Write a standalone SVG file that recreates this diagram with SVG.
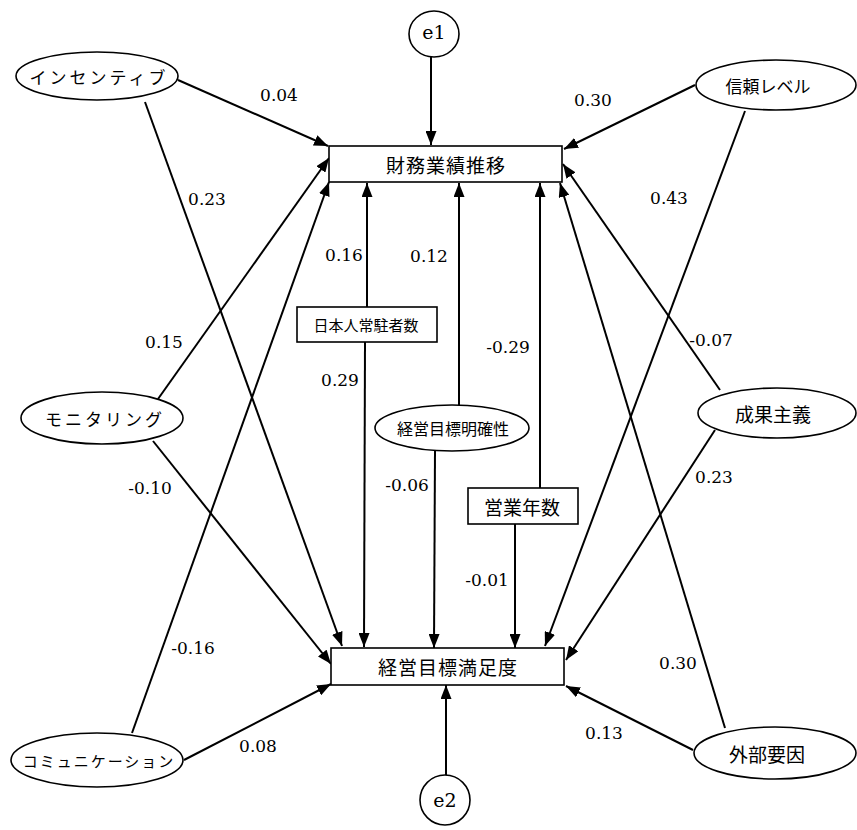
<svg xmlns="http://www.w3.org/2000/svg" width="857" height="830" viewBox="0 0 857 830">
<style>
.n{fill:#fff;stroke:#000;stroke-width:1.6}
.jp{font-family:"Noto Sans CJK JP","Noto Sans CJK SC",sans-serif;font-size:17px;fill:#000;text-anchor:middle;dominant-baseline:central}
.jb{font-size:19px;letter-spacing:1px}
.kt{letter-spacing:3px}
.e{font-family:"DejaVu Serif","Liberation Serif",serif;font-size:19px;fill:#000;text-anchor:middle;dominant-baseline:central}
.c{stroke:#000;stroke-width:2;fill:none;marker-end:url(#ah)}
.lb{font-family:"DejaVu Serif","Liberation Serif",serif;font-size:17px;fill:#000;text-anchor:middle;dominant-baseline:central}
</style>
<defs>
<marker id="ah" markerUnits="userSpaceOnUse" markerWidth="15" markerHeight="11" refX="14" refY="5.5" orient="auto">
<path d="M0,0 L14,5.5 L0,11 z" fill="#000"/>
</marker>
</defs>
<rect width="857" height="830" fill="#fff"/>
<g id="connectors">
<line class="c" x1="431" y1="57" x2="431" y2="145"/>
<line class="c" x1="446" y1="776" x2="446" y2="685"/>
<line class="c" x1="178" y1="80" x2="328" y2="146"/>
<line class="c" x1="145" y1="102" x2="342" y2="646"/>
<line class="c" x1="158" y1="399" x2="329" y2="158"/>
<line class="c" x1="153" y1="441" x2="331" y2="664"/>
<line class="c" x1="132" y1="733" x2="329" y2="182"/>
<line class="c" x1="184" y1="760" x2="331" y2="684"/>
<line class="c" x1="695" y1="85" x2="564" y2="149"/>
<line class="c" x1="745" y1="111" x2="545" y2="646"/>
<line class="c" x1="720" y1="390" x2="563" y2="164"/>
<line class="c" x1="715" y1="430" x2="566" y2="660"/>
<line class="c" x1="725" y1="728" x2="560" y2="183"/>
<line class="c" x1="693" y1="750" x2="566" y2="686"/>
<line class="c" x1="367" y1="307" x2="367" y2="183"/>
<line class="c" x1="365" y1="342" x2="364" y2="647"/>
<line class="c" x1="459" y1="405" x2="459" y2="183"/>
<line class="c" x1="435" y1="451" x2="434" y2="648"/>
<line class="c" x1="540" y1="488" x2="540" y2="183"/>
<line class="c" x1="515" y1="524" x2="515" y2="648"/>
</g>
<g id="labels">
<text class="lb" x="279" y="95">0.04</text>
<text class="lb" x="207" y="199">0.23</text>
<text class="lb" x="164" y="342">0.15</text>
<text class="lb" x="150" y="488">-0.10</text>
<text class="lb" x="193" y="648">-0.16</text>
<text class="lb" x="258" y="746">0.08</text>
<text class="lb" x="593" y="100">0.30</text>
<text class="lb" x="669" y="198">0.43</text>
<text class="lb" x="711" y="340">-0.07</text>
<text class="lb" x="714" y="477">0.23</text>
<text class="lb" x="678" y="663">0.30</text>
<text class="lb" x="604" y="733">0.13</text>
<text class="lb" x="344" y="255">0.16</text>
<text class="lb" x="429" y="256">0.12</text>
<text class="lb" x="340" y="380">0.29</text>
<text class="lb" x="407" y="485">-0.06</text>
<text class="lb" x="508" y="347">-0.29</text>
<text class="lb" x="487" y="580">-0.01</text>
</g>
<g id="e1"><ellipse class="n" cx="434" cy="34" rx="25" ry="23"/><text class="e" x="434" y="32">e1</text></g>
<g id="e2"><ellipse class="n" cx="445" cy="800" rx="25" ry="25"/><text class="e" x="445" y="800">e2</text></g>
<g id="zaimu"><rect class="n" x="329" y="146" width="233" height="36"/><text class="jp jb" x="446" y="164">財務業績推移</text></g>
<g id="keiei"><rect class="n" x="331" y="648" width="233" height="37"/><text class="jp jb" x="448" y="666">経営目標満足度</text></g>
<g id="incentive"><ellipse class="n" cx="97" cy="76" rx="81" ry="24"/><text class="jp kt" x="99" y="76">インセンティブ</text></g>
<g id="shinrai"><ellipse class="n" cx="776" cy="85" rx="80" ry="25"/><text class="jp" x="768" y="85">信頼レベル</text></g>
<g id="monitoring"><ellipse class="n" cx="102" cy="418" rx="81" ry="26"/><text class="jp kt" x="105" y="418">モニタリング</text></g>
<g id="seika"><ellipse class="n" cx="777" cy="413" rx="79" ry="25"/><text class="jp" x="773" y="413" style="font-size:19px">成果主義</text></g>
<g id="communication"><ellipse class="n" cx="97" cy="760" rx="86" ry="27"/><text class="jp" x="99" y="760" style="font-size:15px;letter-spacing:2px">コミュニケーション</text></g>
<g id="gaibu"><ellipse class="n" cx="775" cy="753" rx="81" ry="26"/><text class="jp" x="767" y="753" style="font-size:19px">外部要因</text></g>
<g id="meikaku"><ellipse class="n" cx="452" cy="428" rx="77" ry="23"/><text class="jp" x="453" y="428" style="font-size:16px">経営目標明確性</text></g>
<g id="nihonjin"><rect class="n" x="297" y="307" width="140" height="35"/><text class="jp" x="366" y="324" style="font-size:15px">日本人常駐者数</text></g>
<g id="eigyo"><rect class="n" x="468" y="488" width="110" height="36"/><text class="jp" x="522" y="506" style="font-size:19px">営業年数</text></g>
</svg>
